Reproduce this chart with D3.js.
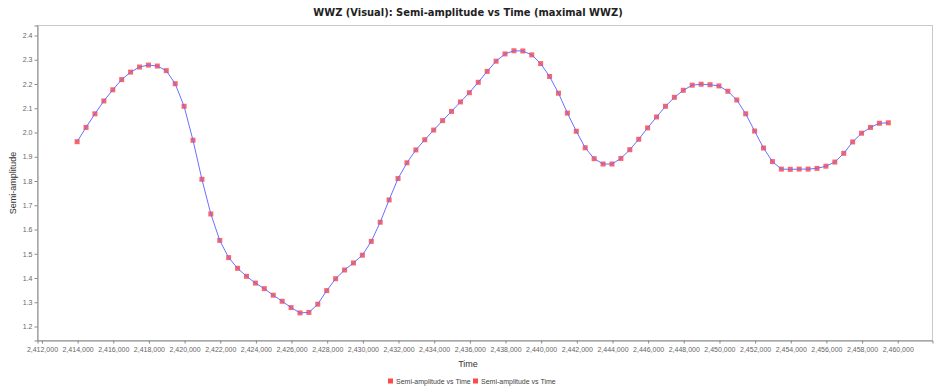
<!DOCTYPE html>
<html>
<head>
<meta charset="utf-8">
<script src="https://cdn.jsdelivr.net/npm/d3@7"></script>
<style>
  body { margin: 0; background: #fff; }
  svg { display: block; }
</style>
</head>
<body>
<div id="chart"></div>
<script>
// Julian dates (x) and semi-amplitude (y)
var times = [
  2414000, 2414500, 2415000, 2415500, 2416000, 2416500, 2417000, 2417500, 2418000, 2418500,
  2419000, 2419500, 2420000, 2420500, 2421000, 2421500, 2422000, 2422500, 2423000, 2423500,
  2424000, 2424500, 2425000, 2425500, 2426000, 2426500, 2427000, 2427500, 2428000, 2428500,
  2429000, 2429500, 2430000, 2430500, 2431000, 2431500, 2432000, 2432500, 2433000, 2433500,
  2434000, 2434500, 2435000, 2435500, 2436000, 2436500, 2437000, 2437500, 2438000, 2438500,
  2439000, 2439500, 2440000, 2440500, 2441000, 2441500, 2442000, 2442500, 2443000, 2443500,
  2444000, 2444500, 2445000, 2445500, 2446000, 2446500, 2447000, 2447500, 2448000, 2448500,
  2449000, 2449500, 2450000, 2450500, 2451000, 2451500, 2452000, 2452500, 2453000, 2453500,
  2454000, 2454500, 2455000, 2455500, 2456000, 2456500, 2457000, 2457500, 2458000, 2458500,
  2459000, 2459500
];
var semiAmp = [
  1.960, 2.019, 2.075, 2.128, 2.174, 2.216, 2.247, 2.268, 2.276, 2.272,
  2.253, 2.199, 2.106, 1.966, 1.805, 1.662, 1.553, 1.482, 1.438, 1.405,
  1.377, 1.354, 1.327, 1.302, 1.276, 1.254, 1.256, 1.290, 1.346, 1.395,
  1.431, 1.460, 1.492, 1.549, 1.628, 1.720, 1.808, 1.873, 1.926, 1.968,
  2.008, 2.047, 2.085, 2.124, 2.162, 2.205, 2.250, 2.292, 2.322, 2.335,
  2.334, 2.318, 2.282, 2.229, 2.160, 2.078, 2.003, 1.935, 1.890, 1.868,
  1.868, 1.891, 1.927, 1.970, 2.017, 2.062, 2.106, 2.143, 2.172, 2.193,
  2.197, 2.195, 2.190, 2.168, 2.132, 2.075, 2.004, 1.934, 1.878, 1.847,
  1.846, 1.847, 1.847, 1.850, 1.859, 1.876, 1.912, 1.959, 1.995, 2.019,
  2.036, 2.038
];
var xTicks = [2412000, 2414000, 2416000, 2418000, 2420000, 2422000, 2424000, 2426000, 2428000,
  2430000, 2432000, 2434000, 2436000, 2438000, 2440000, 2442000, 2444000, 2446000, 2448000,
  2450000, 2452000, 2454000, 2456000, 2458000, 2460000];
var yTicks = [1.2, 1.3, 1.4, 1.5, 1.6, 1.7, 1.8, 1.9, 2.0, 2.1, 2.2, 2.3, 2.4];
var legendItems = ["Semi-amplitude vs Time", "Semi-amplitude vs Time"];

const width = 936;
const height = 392;
const plot = {left: 37, top: 25, right: 932, bottom: 340};
const labelFont = "'Liberation Sans', Arial, sans-serif";

const svg = d3.select('#chart').append('svg').attr('width', width).attr('height', height);

const x = d3.scaleLinear().domain([2411750, 2461950]).range([plot.left, plot.right]);
const y = d3.scaleLinear().domain([1.1423, 2.4412]).range([plot.bottom, plot.top]);

// title
svg.append('text')
  .attr('x', 468).attr('y', 16)
  .attr('text-anchor', 'middle')
  .attr('font-family', "'DejaVu Sans Condensed', 'DejaVu Sans', sans-serif")
  .attr('font-weight', 'bold')
  .attr('font-size', '11px')
  .attr('fill', '#222')
  .text('WWZ (Visual): Semi-amplitude vs Time (maximal WWZ)');

// plot frame
svg.append('rect')
  .attr('x', plot.left + 0.5).attr('y', plot.top + 0.5)
  .attr('width', plot.right - plot.left).attr('height', plot.bottom - plot.top)
  .attr('fill', '#fff').attr('stroke', '#c8c8c8');

// axes
const xAxis = svg.append('g')
  .attr('transform', `translate(0.5,${plot.bottom + 0.5})`)
  .call(d3.axisBottom(x).tickValues(xTicks).tickSize(3).tickPadding(4)
    .tickFormat(d3.format(',')));
const yAxis = svg.append('g')
  .attr('transform', `translate(${plot.left + 0.5},0.5)`)
  .call(d3.axisLeft(y).tickValues(yTicks).tickSize(3).tickPadding(2)
    .tickFormat(d3.format('.1f')));

[xAxis, yAxis].forEach(function(a) {
  a.select('.domain').attr('stroke', '#888');
  a.selectAll('.tick line').attr('stroke', '#888');
  a.selectAll('.tick text')
    .attr('font-family', labelFont)
    .attr('font-size', '7px')
    .attr('fill', '#666');
});

// axis labels
svg.append('text')
  .attr('x', 468).attr('y', 367)
  .attr('text-anchor', 'middle')
  .attr('font-family', labelFont).attr('font-size', '9px').attr('fill', '#333')
  .text('Time');
svg.append('text')
  .attr('transform', 'translate(16,183) rotate(-90)')
  .attr('text-anchor', 'middle')
  .attr('font-family', labelFont).attr('font-size', '9px').attr('fill', '#333')
  .text('Semi-amplitude');

// data
const pts = times.map(function(t, i) { return [t, semiAmp[i]]; });

svg.append('g')
  .selectAll('rect')
  .data(pts)
  .enter()
  .append('rect')
  .attr('x', d => x(d[0]) - 2.5)
  .attr('y', d => y(d[1]) - 2.5)
  .attr('width', 5).attr('height', 5)
  .attr('fill', '#ff4a4a')
  .attr('fill-opacity', 0.85);

const line = d3.line().x(d => x(d[0])).y(d => y(d[1]));
svg.append('path')
  .datum(pts)
  .attr('d', line)
  .attr('fill', 'none')
  .attr('stroke', '#6e6eff')
  .attr('stroke-width', 1);

// legend
const legend = svg.append('g').attr('transform', 'translate(0,384)');
const legendX = [388, 473];
legendItems.forEach(function(name, i) {
  legend.append('rect')
    .attr('x', legendX[i]).attr('y', -5.5)
    .attr('width', 5).attr('height', 5)
    .attr('fill', '#ff4a4a');
  legend.append('text')
    .attr('x', legendX[i] + 8).attr('y', 0)
    .attr('font-family', labelFont).attr('font-size', '7px').attr('fill', '#444')
    .text(name);
});
</script>
</body>
</html>
